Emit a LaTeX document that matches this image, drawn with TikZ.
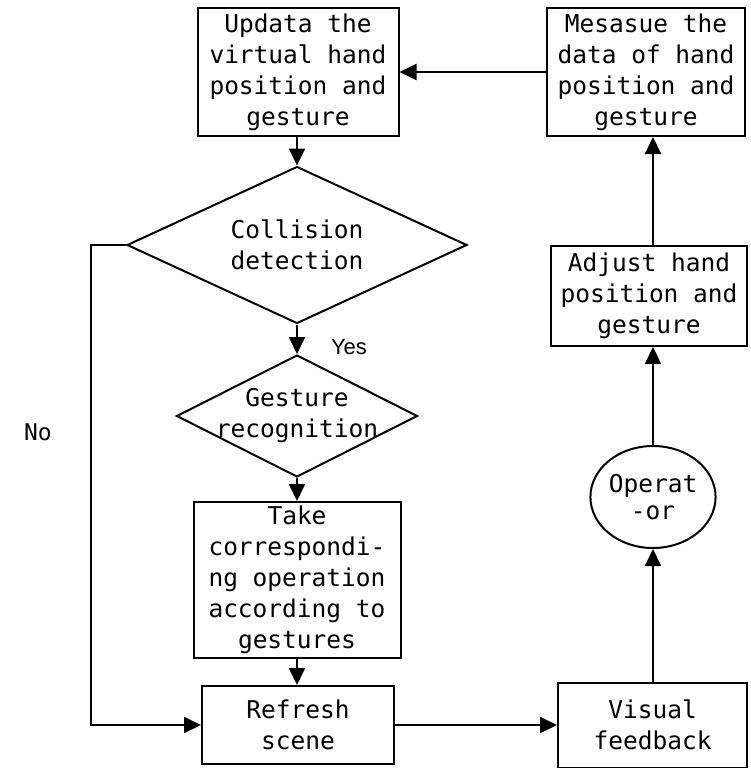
\documentclass[tikz,border=0pt]{standalone}
\usepackage{fontspec}
\newfontfamily\monofam{DejaVu Sans Mono}
\newfontfamily\sansfam{Liberation Sans}
\usetikzlibrary{shapes.geometric,arrows.meta}
\tikzset{
  box/.style={draw,line width=2pt,rectangle,inner sep=0pt,align=center,
    font=\monofam\fontsize{24.5}{31}\selectfont},
  dia/.style={draw,line width=2pt,diamond,inner sep=0pt},
  ell/.style={draw,line width=2pt,ellipse,inner sep=0pt,align=center,
    font=\monofam\fontsize{24.5}{27}\selectfont},
  txt/.style={inner sep=0pt,align=center,font=\monofam\fontsize{24.5}{31}\selectfont},
  arr/.style={line width=2pt,-{Triangle[length=17pt,width=16pt]}},
  ln/.style={line width=2pt}
}
\begin{document}
\begin{tikzpicture}[x=1pt,y=-1pt]
\useasboundingbox (0,0) rectangle (750,768);
% left column
\node[box,minimum width=201pt,minimum height=128pt] (b1) at (298,72)
  {Updata the\\virtual hand\\position and\\gesture};
\node[dia,minimum width=340pt,minimum height=157pt] (d1) at (297,245) {};
\node[txt] (d1t) at (d1.center) {Collision\\detection};
\node[dia,minimum width=241pt,minimum height=122pt] (d2) at (297,416) {};
\node[txt] (d2t) at (d2.center) {Gesture\\recognition};
\node[box,minimum width=207pt,minimum height=156pt] (b3) at (297,580)
  {Take\\correspondi-\\ng operation\\according to\\gestures};
\node[box,minimum width=192pt,minimum height=78pt] (b4) at (298,725)
  {Refresh\\scene};
% right column
\node[box,minimum width=198pt,minimum height=128pt] (b2) at (646,72)
  {Mesasue the\\data of hand\\position and\\gesture};
\node[box,minimum width=196pt,minimum height=100pt] (b6) at (649,296)
  {Adjust hand\\position and\\gesture};
\node[ell,minimum width=118pt,minimum height=102pt] (op) at (653,497)
  {Operat\\-or};
\node[box,minimum width=189pt,minimum height=85pt] (b5) at (652.5,725)
  {Visual\\feedback};
% labels
\node[inner sep=0pt,font=\sansfam\fontsize{22}{24}\selectfont] (yes) at (349,347) {Yes};
\node[inner sep=0pt,font=\monofam\fontsize{23}{25}\selectfont] (no) at (38,432) {No};
% connectors
\draw[arr] (b2.west) -- (b1.east |- b2.west);
\draw[arr] (b1.south -| d1.north) -- (d1.north);
\draw[arr] (d1.south) -- (d2.north);
\draw[arr] (d2.south) -- (b3.north);
\draw[arr] (b3.south) -- (b3.south |- b4.north);
\coordinate (nc) at (91,245);
\draw[arr] (d1.west) -- (nc) |- (b4.west);
\draw[arr] (b4.east) -- (b5.west);
\draw[arr] (b5.north -| op.south) -- (op.south);
\draw[arr] (op.north) -- (op.north |- b6.south);
\draw[arr] (op.north |- b6.north) -- (op.north |- b2.south);
\end{tikzpicture}
\end{document}
